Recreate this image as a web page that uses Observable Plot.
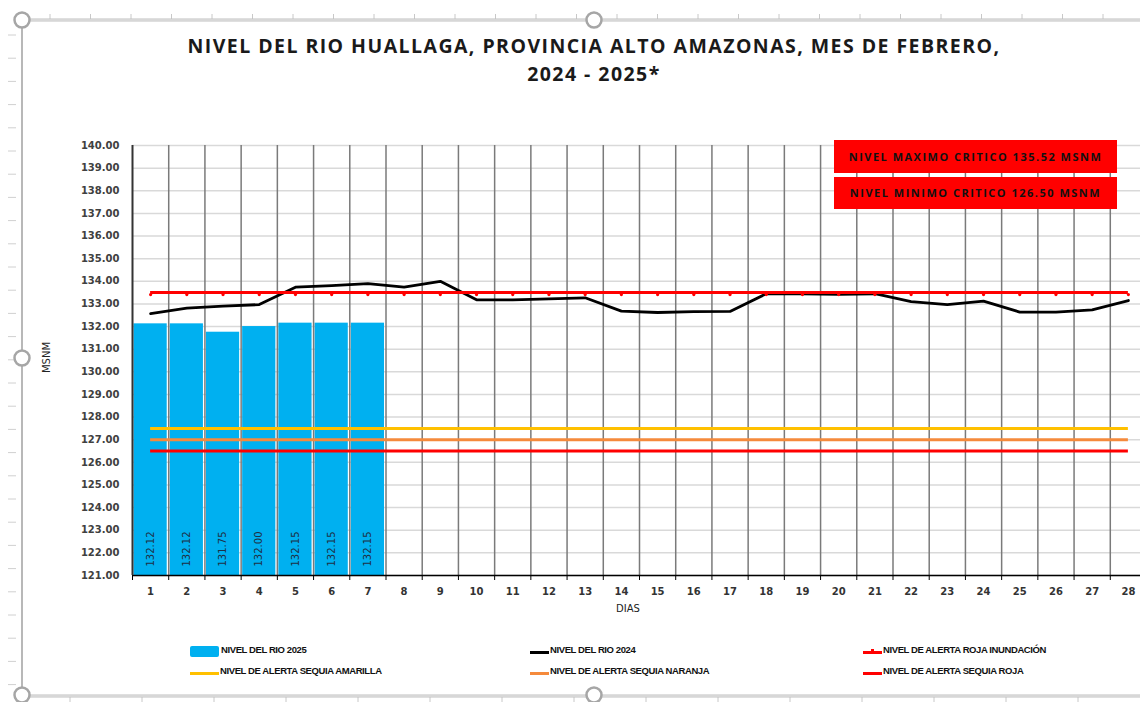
<!DOCTYPE html>
<html>
<head>
<meta charset="utf-8">
<script src="https://cdn.jsdelivr.net/npm/d3@7"></script>
<script src="https://cdn.jsdelivr.net/npm/@observablehq/plot@0.6"></script>
<style>
  html, body { margin: 0; padding: 0; background: #fff; }
  #wrap { position: relative; width: 1140px; height: 702px; overflow: hidden; background: #fff; }
  #wrap > svg.plot { position: absolute; left: 0; top: 0; }
  .title { position: absolute; left: 0; width: 1188px; text-align: center; font-family: "Open Sans", sans-serif; font-weight: 700; font-size: 19.5px; color: #1a1a1a; letter-spacing: 1.45px; }
  .redbox { position: absolute; left: 834px; width: 283px; background: #ff0000; color: #111; font-family: "Open Sans", sans-serif; font-weight: 700; font-size: 11px; text-align: center; letter-spacing: 1.5px; box-sizing: border-box; }
  .axlab { position: absolute; font-family: "DejaVu Sans", sans-serif; font-size: 10px; color: #222; }
  .leg { position: absolute; font-family: "Liberation Sans Narrow", "Liberation Sans", sans-serif; font-weight: 700; font-size: 9.5px; color: #111; white-space: nowrap; letter-spacing: -0.4px; }
  .sw { position: absolute; }
</style>
</head>
<body>
<div id="wrap"></div>
<script>
// ---- data ----
const days = [1,2,3,4,5,6,7,8,9,10,11,12,13,14,15,16,17,18,19,20,21,22,23,24,25,26,27,28];
const rio2025 = [132.12, 132.12, 131.75, 132.00, 132.15, 132.15, 132.15];
const rio2024 = [132.57, 132.81, 132.90, 132.97, 133.74, 133.81, 133.90, 133.74, 134.00, 133.18,
                 133.18, 133.22, 133.27, 132.68, 132.62, 132.66, 132.67, 133.45, 133.45, 133.42,
                 133.45, 133.10, 132.97, 133.12, 132.64, 132.64, 132.74, 133.15];
const alertaRojaInundacion = 133.50;
const alertaSequiaAmarilla = 127.50;
const alertaSequiaNaranja = 127.00;
const alertaSequiaRoja = 126.50;
const yTicks = [121,122,123,124,125,126,127,128,129,130,131,132,133,134,135,136,137,138,139,140];
const titulo1 = "NIVEL DEL RIO HUALLAGA, PROVINCIA ALTO AMAZONAS, MES DE FEBRERO,";
const titulo2 = "2024 - 2025*";
const cajas = ["NIVEL MAXIMO CRITICO 135.52 MSNM", "NIVEL MINIMO CRITICO 126.50 MSNM"];
const leyenda = ["NIVEL DEL RIO 2025", "NIVEL DEL RIO 2024", "NIVEL DE ALERTA ROJA INUNDACIÓN",
                 "NIVEL DE ALERTA SEQUIA AMARILLA", "NIVEL DE ALERTA SEQUIA NARANJA", "NIVEL DE ALERTA SEQUIA ROJA"];

const C = {blue: "#00B0F0", black: "#000000", red: "#FF0000", yellow: "#FFC000", orange: "#F58A3C"};

// ---- derived tables ----
const bars = rio2025.map((v, i) => ({day: days[i], value: v}));
const line24 = rio2024.map((v, i) => ({day: days[i], value: v}));
const bounds = days.slice(0, -1).map(d => d + 0.5);
const tickBounds = [days[0] - 0.5, ...bounds];

const chart = Plot.plot({
  width: 1140, height: 702,
  marginLeft: 132, marginTop: 145, marginBottom: 127, marginRight: 0,
  x: {domain: [0.5, 28.5], range: [132, 1146]},
  y: {domain: [121, 140]},
  style: {fontFamily: "DejaVu Sans, sans-serif", background: "transparent", overflow: "visible"},
  marks: [
    Plot.ruleY(yTicks, {stroke: "#d9d9d9", strokeWidth: 1.5}),
    Plot.rectY(bars, {x1: d => d.day - 0.5, x2: d => d.day + 0.5, y1: 121, y2: "value", fill: C.blue, insetLeft: 1.5, insetRight: 1.5}),
    Plot.ruleX(bounds, {y1: 121, y2: 140, stroke: "#7a7a7a", strokeWidth: 1.5}),
    Plot.text(bars, {x: "day", y: 121, text: d => d.value.toFixed(2), rotate: -90, textAnchor: "start", dy: -9, fontSize: 10, fill: "#1f2f45"}),
    Plot.ruleY([alertaSequiaAmarilla], {x1: 1, x2: 28, stroke: C.yellow, strokeWidth: 3}),
    Plot.ruleY([alertaSequiaNaranja], {x1: 1, x2: 28, stroke: C.orange, strokeWidth: 3}),
    Plot.ruleY([alertaSequiaRoja], {x1: 1, x2: 28, stroke: C.red, strokeWidth: 3}),
    Plot.line(line24, {x: "day", y: "value", stroke: C.black, strokeWidth: 2.8}),
    Plot.ruleY([alertaRojaInundacion], {x1: 1, x2: 28, stroke: C.red, strokeWidth: 3}),
    Plot.dot(days, {x: d => d, y: alertaRojaInundacion, r: 1.6, fill: C.red, dy: 2}),
    Plot.ruleY([121], {stroke: "#000", strokeWidth: 1.5}),
    Plot.ruleX([0.5], {y1: 121, y2: 140, stroke: "#333", strokeWidth: 2}),
    Plot.axisX(tickBounds, {tickSize: 5, tickFormat: () => "", stroke: "#000", label: null}),
    Plot.axisX(days, {tickSize: 0, tickPadding: 12, fontSize: 10, fontWeight: "bold", fill: "#333", label: null}),
    Plot.axisY(yTicks, {tickSize: 0, tickPadding: 13, tickFormat: d3.format(".2f"), fontSize: 10, fontWeight: "bold", fill: "#404040", label: null})
  ]
});
chart.classList.add("plot");
const wrap = document.getElementById("wrap");

// Excel-like frame decoration
const ns = "http://www.w3.org/2000/svg";
const deco = document.createElementNS(ns, "svg");
deco.setAttribute("width", 1140); deco.setAttribute("height", 702);
deco.style.position = "absolute"; deco.style.left = "0"; deco.style.top = "0";
let s = "";
for (let x = 50; x < 1140; x += 40.5) s += `<line x1="${x}" y1="14" x2="${x}" y2="20" stroke="#c8c8c8"/>`;
for (let y = 35; y < 700; y += 23.2) s += `<line x1="8" y1="${y}" x2="16" y2="${y}" stroke="#d0d0d0"/>`;
for (let x = 70; x < 1140; x += 72) s += `<line x1="${x}" y1="696" x2="${x}" y2="702" stroke="#c8c8c8"/>`;
s += `<line x1="22" y1="20" x2="1140" y2="20" stroke="#c0c0c0" stroke-width="3"/>`;
s += `<line x1="22" y1="20" x2="1140" y2="20" stroke="#eeeeee" stroke-width="1"/>`;
s += `<line x1="22" y1="20" x2="22" y2="696" stroke="#b8b8b8" stroke-width="2"/>`;
s += `<line x1="22" y1="696" x2="1140" y2="696" stroke="#c0c0c0" stroke-width="3"/>`;
s += `<line x1="22" y1="696" x2="1140" y2="696" stroke="#eeeeee" stroke-width="1"/>`;
for (const [cx, cy] of [[22,20],[594,20],[22,358],[22,695],[594,695]])
  s += `<circle cx="${cx}" cy="${cy}" r="7.5" fill="#fff" stroke="#a6a6a6" stroke-width="2.5"/>`;
deco.innerHTML = s;
wrap.appendChild(deco);
wrap.appendChild(chart);

function add(cls, text, css) {
  const d = document.createElement("div");
  d.className = cls; d.textContent = text;
  Object.assign(d.style, css);
  wrap.appendChild(d);
  return d;
}
add("title", titulo1, {top: "32px"});
add("title", titulo2, {top: "60px"});
add("redbox", cajas[0], {top: "140px", height: "33px", lineHeight: "33px"});
add("redbox", cajas[1], {top: "177px", height: "32px", lineHeight: "32px"});
add("axlab", "DIAS", {left: "616px", top: "603px"});
add("axlab", "MSNM", {left: "31px", top: "352px", transform: "rotate(-90deg)", transformOrigin: "center"});

// legend
const legItems = [
  {x: 190, y: 650, t: leyenda[0], kind: "rect", c: C.blue},
  {x: 530, y: 650, t: leyenda[1], kind: "line", c: C.black},
  {x: 863, y: 650, t: leyenda[2], kind: "mark", c: C.red},
  {x: 190, y: 671, t: leyenda[3], kind: "line", c: C.yellow},
  {x: 530, y: 671, t: leyenda[4], kind: "line", c: C.orange},
  {x: 863, y: 671, t: leyenda[5], kind: "line", c: C.red}
];
for (const it of legItems) {
  if (it.kind === "rect") {
    add("sw", "", {left: it.x + "px", top: (it.y - 4) + "px", width: "29px", height: "11px", background: it.c, borderRadius: "2px"});
    add("leg", it.t, {left: (it.x + 31) + "px", top: (it.y - 6) + "px"});
  } else {
    const w = it.x === 190 ? 29 : 19;
    add("sw", "", {left: it.x + "px", top: (it.y + 1) + "px", width: w + "px", height: "3px", background: it.c});
    if (it.kind === "mark") add("sw", "", {left: (it.x + 8) + "px", top: (it.y - 1) + "px", width: "3px", height: "3px", background: it.c});
    add("leg", it.t, {left: (it.x + w + 1) + "px", top: (it.y - 6) + "px"});
  }
}
</script>
</body>
</html>
